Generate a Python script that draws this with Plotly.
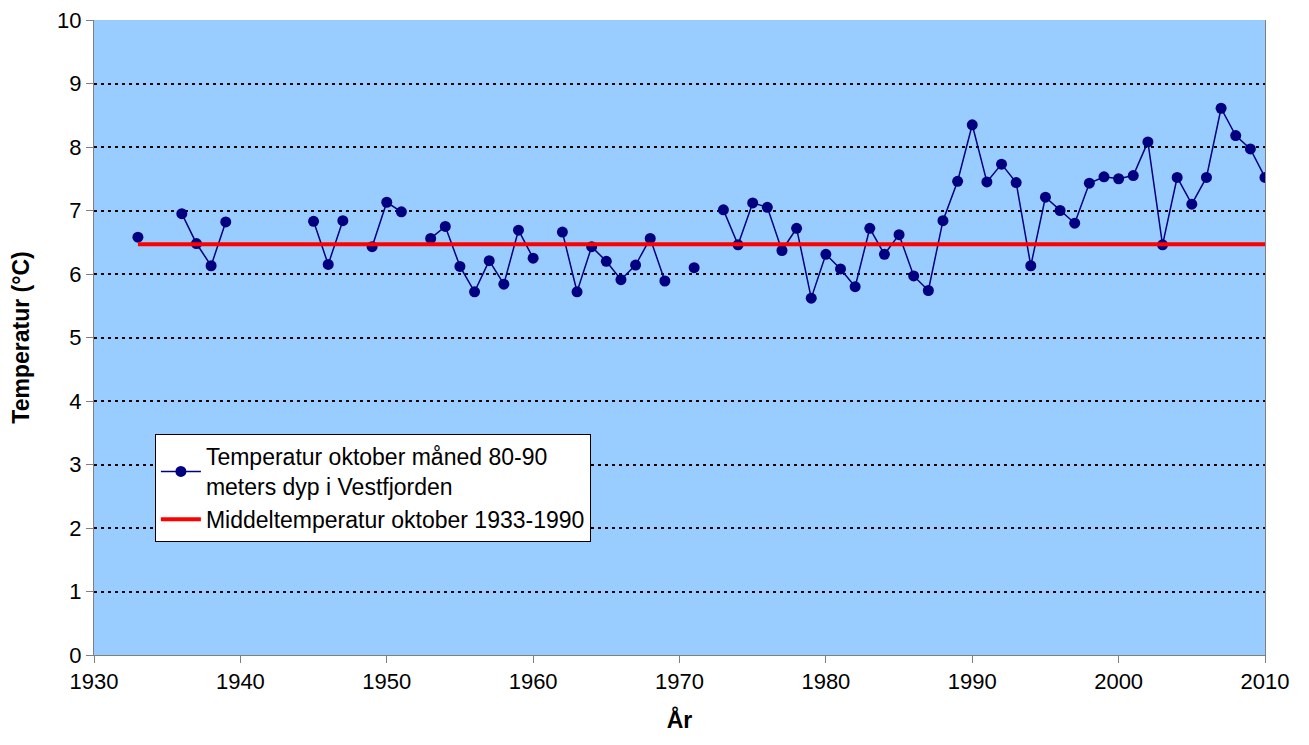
import plotly.graph_objects as go

# October temperature, 80-90 m depth, Vestfjorden (None = no measurement)
years = list(range(1933, 2011))
temps = [
    6.58, None, None, 6.95, 6.48, 6.13, 6.82,            # 1933-1939
    None, None, None, None, None, 6.83, 6.15, 6.84, None, 6.43,  # 1940-1949
    7.13, 6.98, None, 6.56, 6.75, 6.12, 5.72, 6.21, 5.84, 6.69,  # 1950-1959
    6.25, None, 6.66, 5.72, 6.43, 6.20, 5.91, 6.14, 6.56, 5.89,  # 1960-1969
    None, 6.10, None, 7.01, 6.46, 7.12, 7.05, 6.37, 6.72, 5.62,  # 1970-1979
    6.31, 6.08, 5.80, 6.72, 6.31, 6.62, 5.97, 5.74, 6.84, 7.46,  # 1980-1989
    8.35, 7.45, 7.73, 7.44, 6.13, 7.21, 7.00, 6.80, 7.43, 7.53,  # 1990-1999
    7.50, 7.55, 8.08, 6.46, 7.52, 7.10, 7.52, 8.61, 8.18, 7.97,  # 2000-2009
    7.52,                                                  # 2010
]
mean_years = [1933, 2010]
mean_temp = [6.47, 6.47]

fig = go.Figure()
fig.add_trace(go.Scatter(
    x=years, y=temps, mode='lines+markers', connectgaps=False,
    name='Temperatur oktober måned 80-90<br>meters dyp i Vestfjorden',
    line=dict(color='#000080', width=1.5),
    marker=dict(color='#000080', size=11),
))
fig.add_trace(go.Scatter(
    x=mean_years, y=mean_temp, mode='lines',
    name='Middeltemperatur oktober 1933-1990',
    line=dict(color='#FF0000', width=4),
))

# page body has an 8px margin, so the figure is 8px smaller than the window
fig.update_layout(
    width=1301, height=737,
    margin=dict(l=86, r=44, t=12, b=90, autoexpand=False),
    paper_bgcolor='white', plot_bgcolor='#99CCFF',
    font=dict(family='Liberation Sans, Arial, sans-serif', size=23, color='black'),
    showlegend=True,
    legend=dict(
        x=0.052, y=0.348, xanchor='left', yanchor='top',
        bgcolor='white', bordercolor='black', borderwidth=1,
        font=dict(size=23), tracegroupgap=2, itemwidth=40,
    ),
)
fig.update_xaxes(
    range=[1930, 2010], tick0=1930, dtick=10, showgrid=False, zeroline=False,
    showline=True, linecolor='#808080', linewidth=1, mirror=False,
    ticks='outside', ticklen=7, tickcolor='#808080', automargin=False,
    tickfont=dict(size=22), ticklabeloverflow='allow',
    title=dict(text='<b>År</b>', font=dict(size=23), standoff=18),
)
fig.update_yaxes(
    range=[0, 10], dtick=1, zeroline=False,
    showgrid=True, gridcolor='black', griddash='3px,4px', gridwidth=2,
    showline=True, linecolor='#808080', linewidth=1, mirror=True,
    ticks='outside', ticklen=7, tickcolor='#808080', automargin=False,
    tickfont=dict(size=22), ticklabeloverflow='allow',
    title=dict(text='<b>Temperatur (°C)</b>', font=dict(size=23), standoff=30),
)

fig.write_html("out.html")
